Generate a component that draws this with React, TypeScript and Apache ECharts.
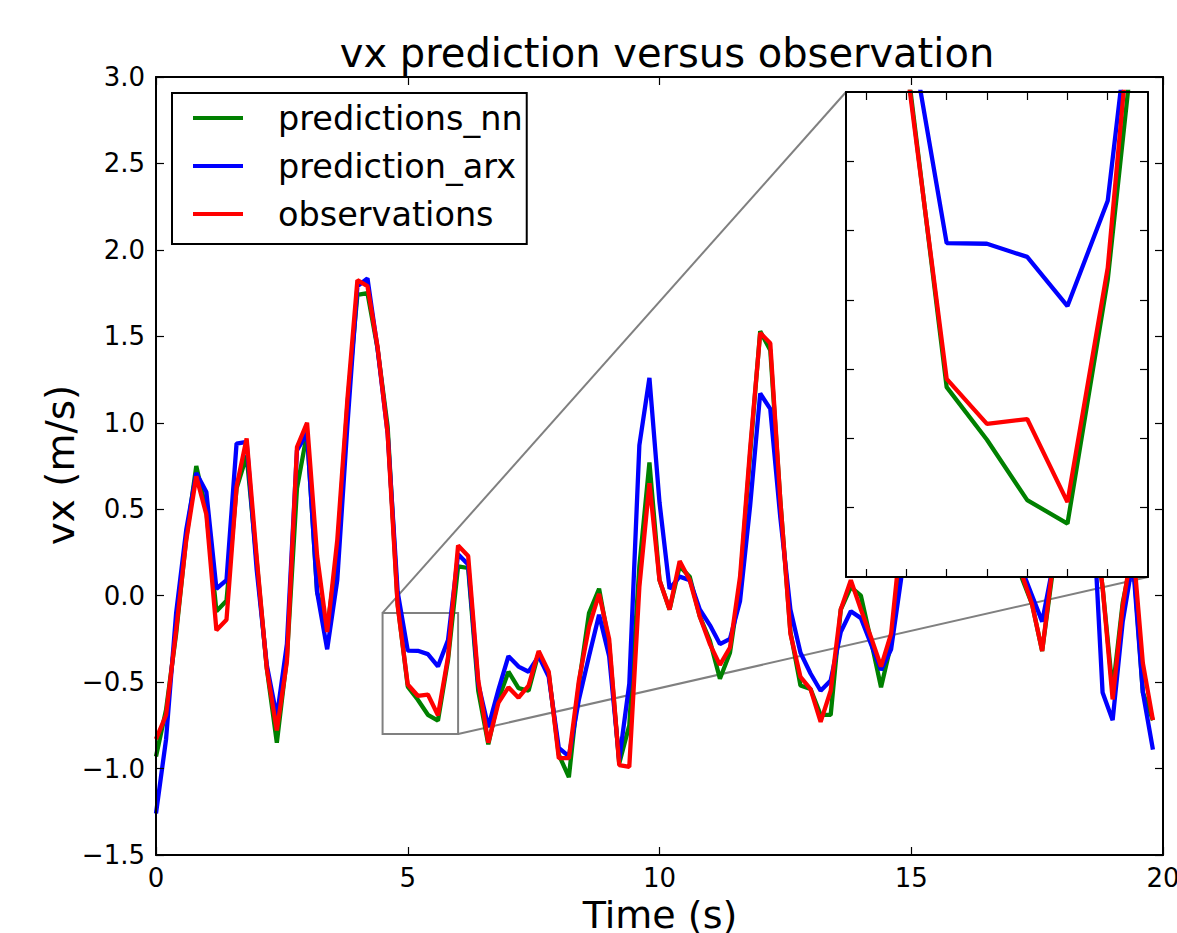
import React, { useEffect, useRef } from "react";
import * as echarts from "echarts";

const FONT = "DejaVu Sans";

const TIME = [
  0.0, 0.2, 0.4, 0.6, 0.8, 1.0, 1.2, 1.4, 1.6, 1.8,
  2.0, 2.2, 2.4, 2.6, 2.8, 3.0, 3.2, 3.4, 3.6, 3.8,
  4.0, 4.2, 4.4, 4.6, 4.8, 5.0, 5.2, 5.4, 5.6, 5.8,
  6.0, 6.2, 6.4, 6.6, 6.8, 7.0, 7.2, 7.4, 7.6, 7.8,
  8.0, 8.2, 8.4, 8.6, 8.8, 9.0, 9.2, 9.4, 9.6, 9.8,
  10.0, 10.2, 10.4, 10.6, 10.8, 11.0, 11.2, 11.4, 11.6, 11.8,
  12.0, 12.2, 12.4, 12.6, 12.8, 13.0, 13.2, 13.4, 13.6, 13.8,
  14.0, 14.2, 14.4, 14.6, 14.8, 15.0, 15.2, 15.4, 15.6, 15.8,
  16.0, 16.2, 16.4, 16.6, 16.8, 17.0, 17.2, 17.4, 17.6, 17.8,
  18.0, 18.2, 18.4, 18.6, 18.8, 19.0, 19.2, 19.4, 19.6, 19.8,
];

const PRED_NN = [
  -0.93, -0.66, -0.22, 0.33, 0.75, 0.49, -0.09, -0.03, 0.62, 0.81,
  0.2, -0.42, -0.85, -0.36, 0.62, 0.94, 0.02, -0.19, 0.25, 1.1,
  1.74, 1.75, 1.43, 0.98, -0.05, -0.526, -0.602, -0.689, -0.723, -0.371,
  0.17, 0.16, -0.55, -0.86, -0.6, -0.44, -0.535, -0.55, -0.33, -0.45,
  -0.92, -1.05, -0.51, -0.1, 0.04, -0.28, -0.97, -0.75, 0.17, 0.77,
  0.09, -0.08, 0.17, 0.11, -0.12, -0.26, -0.48, -0.33, 0.07, 0.82,
  1.53, 1.42, 0.55, -0.21, -0.52, -0.54, -0.69, -0.69, -0.08, 0.05,
  0.0, -0.26, -0.53, -0.28, 0.3, 0.95, 1.25, 0.85, 0.45, 0.8,
  1.05, 0.7, 0.45, 0.6, 0.85, 0.5, 0.1, -0.05, -0.32, 0.12,
  0.65, 0.95, 0.8, 0.5, 0.05, -0.55, -0.04, 0.25, -0.56, -0.72,
];

const PRED_ARX = [
  -1.26, -0.83, -0.1, 0.38, 0.71, 0.6, 0.04, 0.09, 0.88, 0.89,
  0.15, -0.4, -0.7, -0.28, 0.84, 0.94, 0.02, -0.31, 0.09, 0.98,
  1.79, 1.835, 1.43, 0.94, 0.02, -0.318, -0.319, -0.338, -0.409, -0.257,
  0.24, 0.18, -0.51, -0.76, -0.545, -0.35, -0.41, -0.44, -0.35, -0.47,
  -0.88, -0.93, -0.6, -0.35, -0.11, -0.35, -0.95, -0.51, 0.87, 1.26,
  0.54, 0.04, 0.11, 0.09, -0.08, -0.17, -0.28, -0.25, -0.03, 0.52,
  1.17, 1.08, 0.45, -0.08, -0.33, -0.45, -0.55, -0.49, -0.21, -0.09,
  -0.13, -0.28, -0.43, -0.31, 0.1, 0.9, 1.2, 0.95, 0.6, 0.7,
  0.9, 0.75, 0.5, 0.55, 0.8, 0.55, 0.15, 0.0, -0.15, 0.15,
  0.6, 0.9, 0.7, 0.55, -0.56, -0.72, -0.15, 0.2, -0.56, -0.89,
];

const OBSERVATIONS = [
  -0.83, -0.69, -0.2, 0.32, 0.69, 0.47, -0.2, -0.14, 0.63, 0.91,
  0.22, -0.42, -0.78, -0.38, 0.86, 1.0, 0.23, -0.21, 0.32, 1.13,
  1.825, 1.79, 1.44, 0.94, -0.06, -0.514, -0.579, -0.572, -0.692, -0.354,
  0.29, 0.23, -0.49, -0.85, -0.62, -0.53, -0.59, -0.52, -0.32, -0.44,
  -0.94, -0.94, -0.49, -0.18, 0.01, -0.25, -0.98, -0.99, 0.05, 0.65,
  0.09, -0.08, 0.2, 0.09, -0.12, -0.28, -0.4, -0.3, 0.11, 0.85,
  1.52, 1.46, 0.55, -0.22, -0.47, -0.54, -0.73, -0.55, -0.08, 0.09,
  -0.08, -0.24, -0.41, -0.22, 0.35, 1.0, 1.3, 0.9, 0.5, 0.8,
  1.1, 0.7, 0.4, 0.6, 0.9, 0.5, 0.12, -0.05, -0.32, 0.15,
  0.7, 1.0, 0.8, 0.5, 0.05, -0.6, -0.06, 0.3, -0.39, -0.72,
];

const SERIES_NAMES = ["predictions_nn", "prediction_arx", "observations"];
const SERIES_COLORS = ["#008000", "#0000ff", "#ff0000"];
const SERIES_VALUES = [PRED_NN, PRED_ARX, OBSERVATIONS];

const X_RANGE = [0, 20];
const Y_RANGE = [-1.5, 3.0];
const ZOOM_X = [4.5, 6.0];
const ZOOM_Y = [-0.8, -0.1];
const ZOOM_X_TICKS = [4.6, 4.8, 5.0, 5.2, 5.4, 5.6, 5.8];
const ZOOM_Y_TICKS = [-0.7, -0.6, -0.5, -0.4, -0.3, -0.2];

const MAIN_GRID = { left: 156, top: 77, width: 1007, height: 778 };
const INSET_GRID = { left: 846, top: 92, width: 302, height: 485 };

const fmtY = (v: number) =>
  (v < 0 ? "\u2212" : "") + Math.abs(v).toFixed(1);

export default function App() {
  const ref = useRef<HTMLDivElement>(null);

  useEffect(() => {
    const chart = echarts.init(ref.current!, null, { renderer: "svg" });

    const axisLine = { show: true, onZero: false, lineStyle: { color: "#000", width: 2 } };
    const tick = (len: number) => ({
      show: true,
      inside: true,
      length: len,
      lineStyle: { color: "#000", width: 1.2 },
    });
    const label = {
      fontFamily: FONT,
      fontSize: 26,
      color: "#000",
    };

    const mainX = (position: string, showLabel: boolean) => ({
      type: "value",
      gridIndex: 0,
      position,
      min: X_RANGE[0],
      max: X_RANGE[1],
      interval: 5,
      axisLine,
      axisTick: tick(8),
      axisLabel: { ...label, show: showLabel, margin: 10, showMinLabel: true, showMaxLabel: true },
      splitLine: { show: false },
      z: 3,
    });
    const mainY = (position: string, showLabel: boolean) => ({
      type: "value",
      gridIndex: 0,
      position,
      min: Y_RANGE[0],
      max: Y_RANGE[1],
      interval: 0.5,
      axisLine,
      axisTick: tick(8),
      axisLabel: { ...label, show: showLabel, margin: 11, formatter: fmtY },
      splitLine: { show: false },
      z: 3,
    });
    const insetX = (position: string) => ({
      type: "value",
      gridIndex: 1,
      position,
      min: ZOOM_X[0],
      max: ZOOM_X[1],
      axisLine,
      axisTick: { ...tick(8), customValues: ZOOM_X_TICKS },
      axisLabel: { show: false },
      splitLine: { show: false },
      z: 110,
    });
    const insetY = (position: string) => ({
      type: "value",
      gridIndex: 1,
      position,
      min: ZOOM_Y[0],
      max: ZOOM_Y[1],
      axisLine,
      axisTick: { ...tick(8), customValues: ZOOM_Y_TICKS },
      axisLabel: { show: false },
      splitLine: { show: false },
      z: 110,
    });

    const mkData = (vals: number[]) => TIME.map((t, i) => [t, vals[i]]);

    const series: any[] = [];
    SERIES_VALUES.forEach((vals, k) => {
      series.push({
        name: SERIES_NAMES[k],
        type: "line",
        xAxisIndex: 0,
        yAxisIndex: 0,
        data: mkData(vals),
        showSymbol: false,
        symbol: "none",
        lineStyle: { color: SERIES_COLORS[k], width: 4.3 },
        itemStyle: { color: SERIES_COLORS[k] },
        z: 2,
      });
    });
    SERIES_VALUES.forEach((vals, k) => {
      series.push({
        name: SERIES_NAMES[k],
        type: "line",
        xAxisIndex: 2,
        yAxisIndex: 2,
        data: mkData(vals),
        showSymbol: false,
        symbol: "none",
        clip: true,
        lineStyle: { color: SERIES_COLORS[k], width: 4.3 },
        itemStyle: { color: SERIES_COLORS[k] },
        z: 105,
      });
    });

    const option: any = {
      animation: false,
      backgroundColor: "#fff",
      grid: [
        { ...MAIN_GRID, show: false, containLabel: false, outerBoundsMode: "none" },
        { ...INSET_GRID, show: false, containLabel: false, outerBoundsMode: "none" },
      ],
      xAxis: [mainX("bottom", true), mainX("top", false), insetX("bottom"), insetX("top")],
      yAxis: [mainY("left", true), mainY("right", false), insetY("left"), insetY("right")],
      legend: {
        orient: "vertical",
        left: 172,
        top: 93,
        padding: [1, 4, 6, 21],
        itemGap: 0,
        itemWidth: 50,
        itemHeight: 4,
        icon: "rect",
        borderColor: "#000",
        borderWidth: 2,
        borderRadius: 0,
        backgroundColor: "#fff",
        selectedMode: false,
        data: SERIES_NAMES,
        textStyle: {
          fontFamily: FONT,
          fontSize: 33.5,
          color: "#000",
          lineHeight: 48,
          padding: [0, 0, 0, 30],
        },
        z: 5,
      },
      series,
    };

    chart.setOption(option);

    const tl = chart.convertToPixel({ seriesIndex: 0 }, [ZOOM_X[0], ZOOM_Y[1]]) as number[];
    const br = chart.convertToPixel({ seriesIndex: 0 }, [ZOOM_X[1], ZOOM_Y[0]]) as number[];
    const itl = chart.convertToPixel({ seriesIndex: 3 }, [ZOOM_X[0], ZOOM_Y[1]]) as number[];
    const ibr = chart.convertToPixel({ seriesIndex: 3 }, [ZOOM_X[1], ZOOM_Y[0]]) as number[];

    const gray = { stroke: "#808080", lineWidth: 2, fill: "none" };

    chart.setOption({
      graphic: {
        elements: [
          {
            type: "rect",
            z: 1,
            shape: { x: tl[0], y: tl[1], width: br[0] - tl[0], height: br[1] - tl[1] },
            style: gray,
            silent: true,
          },
          {
            type: "line",
            z: 1,
            shape: { x1: tl[0], y1: tl[1], x2: itl[0], y2: itl[1] },
            style: gray,
            silent: true,
          },
          {
            type: "line",
            z: 1,
            shape: { x1: br[0], y1: br[1], x2: ibr[0], y2: ibr[1] },
            style: gray,
            silent: true,
          },
          {
            type: "rect",
            z: 100,
            shape: {
              x: itl[0],
              y: itl[1],
              width: ibr[0] - itl[0],
              height: ibr[1] - itl[1],
            },
            style: { fill: "#fff", stroke: "none" },
            silent: true,
          },
          {
            type: "text",
            z: 200,
            x: 667,
            y: 53,
            style: {
              text: "vx prediction versus observation",
              fontFamily: FONT,
              fontSize: 40,
              fill: "#000",
              align: "center",
              verticalAlign: "middle",
            },
          },
          {
            type: "text",
            z: 200,
            x: 660,
            y: 915,
            style: {
              text: "Time (s)",
              fontFamily: FONT,
              fontSize: 38,
              fill: "#000",
              align: "center",
              verticalAlign: "middle",
            },
          },
          {
            type: "text",
            z: 200,
            x: 60,
            y: 465,
            rotation: Math.PI / 2,
            style: {
              text: "vx (m/s)",
              fontFamily: FONT,
              fontSize: 39,
              fill: "#000",
              align: "center",
              verticalAlign: "middle",
            },
          },
        ],
      },
    });

    return () => chart.dispose();
  }, []);

  return (
    <div
      ref={ref}
      style={{ position: "fixed", left: 0, top: 0, width: 1177, height: 933 }}
    />
  );
}
